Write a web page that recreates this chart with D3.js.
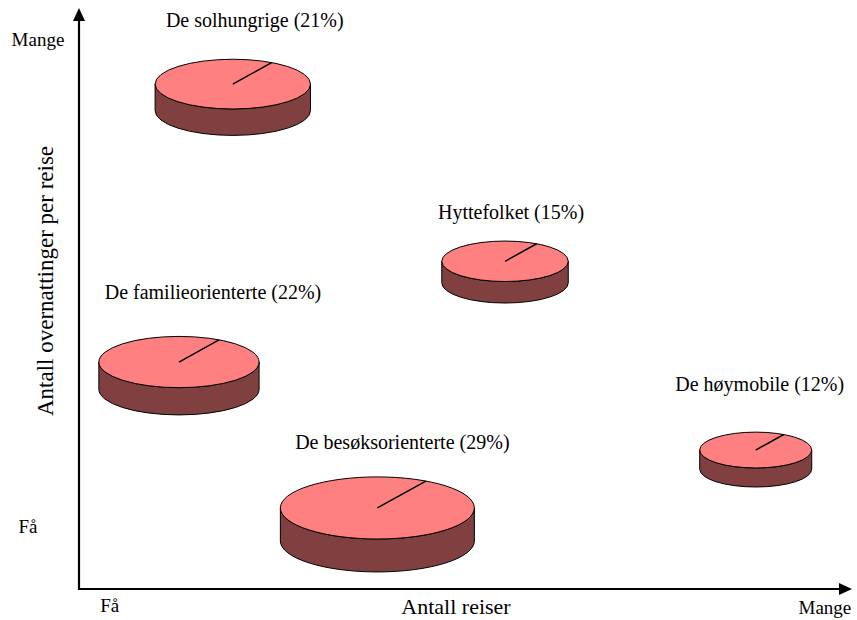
<!DOCTYPE html>
<html>
<head>
<meta charset="utf-8">
<script src="https://cdn.jsdelivr.net/npm/d3@7"></script>
<style>
  html, body { margin: 0; padding: 0; background: #fff; }
  svg { display: block; }
</style>
</head>
<body>
<svg id="chart" width="857" height="620"></svg>
<script>
// ---------- data ----------
const segments = ["De solhungrige", "De familieorienterte", "Hyttefolket", "De besøksorienterte", "De høymobile"];
const shares   = [21, 22, 15, 29, 12];            // percent of travellers
const trips    = [20.0, 13.0, 55.4, 38.8, 88.0];  // Antall reiser (0 = få, 100 = mange)
const nights   = [87.2, 39.2, 56.6, 14.0, 24.0];  // Antall overnattinger per reise
const xTickLabels = ["Få", "Mange"];
const xTickValues = [4, 97];
const yTickLabels = ["Mange", "Få"];
const yTickValues = [94.8, 10.7];

// ---------- layout ----------
const FONT = "'Liberation Serif', 'DejaVu Serif', serif";
const origin = { x: 79, y: 589 };
const xEnd = 848, yEnd = 10;
const svg = d3.select("#chart");

const x = d3.scaleLinear().domain([0, 100]).range([origin.x, xEnd]);
const y = d3.scaleLinear().domain([0, 100]).range([origin.y, yEnd]);
const r = d3.scaleLinear().domain([12, 29]).range([56, 97]);

const tiltRatio = 0.32, depthRatio = 0.34;
const topColor = "#FF8080", sideColor = "#804040";
// label offset (dx, baseline dy from top face center) per segment
const labelOffsets = [[22, -57], [34, -63], [6, -42], [25, -59], [4, -59]];
const yTickX = [38, 28];

const data = segments.map((s, i) => ({ name: s, share: shares[i], tx: trips[i], ny: nights[i], off: labelOffsets[i] }));

function txt(sel) { return sel.attr("font-family", FONT).attr("fill", "#000"); }

// ---------- axes ----------
const axes = svg.append("g");
axes.append("line").attr("x1", origin.x).attr("y1", origin.y + 1).attr("x2", origin.x).attr("y2", yEnd + 8)
  .attr("stroke", "#000").attr("stroke-width", 2.2);
axes.append("line").attr("x1", origin.x - 1).attr("y1", origin.y).attr("x2", xEnd - 6).attr("y2", origin.y)
  .attr("stroke", "#000").attr("stroke-width", 2.2);
axes.append("path").attr("d", `M${origin.x},${yEnd - 2} L${origin.x - 6},${yEnd + 11} L${origin.x + 6},${yEnd + 11} Z`).attr("fill", "#000");
axes.append("path").attr("d", `M${xEnd + 4},${origin.y} L${xEnd - 9},${origin.y - 6} L${xEnd - 9},${origin.y + 6} Z`).attr("fill", "#000");

// tick labels
svg.append("g").selectAll("text").data(xTickLabels).join("text")
  .call(txt)
  .attr("x", (d, i) => x(xTickValues[i])).attr("y", (d, i) => i === 0 ? 612 : 614)
  .attr("text-anchor", "middle").attr("font-size", 19).text(d => d);
svg.append("g").selectAll("text").data(yTickLabels).join("text")
  .call(txt)
  .attr("x", (d, i) => yTickX[i]).attr("y", (d, i) => y(yTickValues[i]) + 6)
  .attr("text-anchor", "middle").attr("font-size", 19).text(d => d);

// axis titles
svg.append("text").call(txt).attr("x", 456).attr("y", 614).attr("text-anchor", "middle")
  .attr("font-size", 22).text("Antall reiser");
svg.append("text").call(txt).attr("transform", `translate(53,${281}) rotate(-90)`).attr("text-anchor", "middle")
  .attr("font-size", 23).text("Antall overnattinger per reise");

// ---------- 3D pies ----------
const pies = svg.append("g").selectAll("g").data(data).join("g");
pies.each(function (d) {
  const g = d3.select(this);
  const cx = x(d.tx), cy = y(d.ny);
  const rx = r(d.share), ry = rx * tiltRatio, dep = rx * depthRatio;
  g.append("path")
    .attr("d", `M${cx - rx},${cy} L${cx - rx},${cy + dep} A${rx},${ry} 0 0 0 ${cx + rx},${cy + dep} L${cx + rx},${cy} A${rx},${ry} 0 0 1 ${cx - rx},${cy} Z`)
    .attr("fill", sideColor).attr("stroke", "#000").attr("stroke-width", 1);
  g.append("ellipse").attr("cx", cx).attr("cy", cy).attr("rx", rx).attr("ry", ry)
    .attr("fill", topColor).attr("stroke", "#000").attr("stroke-width", 1);
  const a = Math.PI / 6;
  g.append("line").attr("x1", cx).attr("y1", cy)
    .attr("x2", cx + rx * Math.sin(a)).attr("y2", cy - ry * Math.cos(a))
    .attr("stroke", "#000").attr("stroke-width", 1.5);
  g.append("text").call(txt).attr("x", cx + d.off[0]).attr("y", cy + d.off[1])
    .attr("text-anchor", "middle").attr("font-size", 20)
    .text(`${d.name} (${d.share}%)`);
});
</script>
</body>
</html>
